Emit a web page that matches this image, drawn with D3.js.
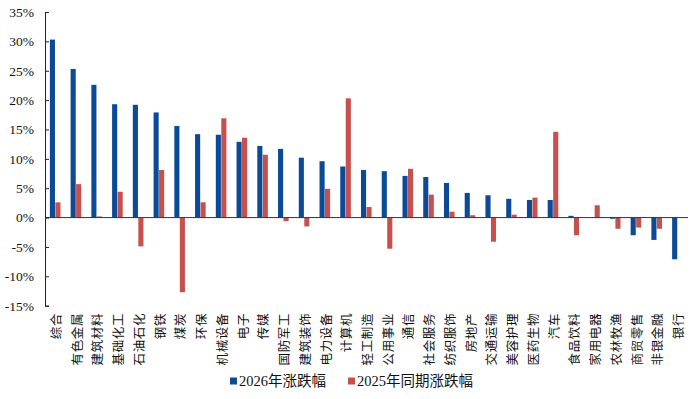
<!DOCTYPE html>
<html>
<head>
<meta charset="utf-8">
<script src="https://cdn.jsdelivr.net/npm/d3@7"></script>
<style>
  body { margin: 0; background: #fff; }
  svg { display: block; }
  .serif { font-family: "Liberation Serif", "Times New Roman", "Noto Sans CJK SC", serif; }
</style>
</head>
<body>
<div id="chart"><svg></svg></div>
<script>
// industries, in chart order
const categories = ["综合", "有色金属", "建筑材料", "基础化工", "石油石化", "钢铁", "煤炭", "环保",
  "机械设备", "电子", "传媒", "国防军工", "建筑装饰", "电力设备", "计算机", "轻工制造",
  "公用事业", "通信", "社会服务", "纺织服饰", "房地产", "交通运输", "美容护理", "医药生物",
  "汽车", "食品饮料", "家用电器", "农林牧渔", "商贸零售", "非银金融", "银行"];

// values in %
const change2026 = [30.3, 25.3, 22.6, 19.3, 19.2, 17.9, 15.6, 14.2,
  14.1, 12.9, 12.2, 11.7, 10.2, 9.6, 8.7, 8.1,
  7.9, 7.1, 6.9, 5.9, 4.2, 3.8, 3.2, 3.0,
  3.0, 0.3, 0.05, -0.2, -3.0, -3.8, -7.1];
const change2025 = [2.6, 5.7, 0.2, 4.4, -4.9, 8.1, -12.7, 2.6,
  16.9, 13.6, 10.7, -0.6, -1.5, 4.9, 20.3, 1.8,
  -5.3, 8.3, 3.9, 1.0, 0.4, -4.1, 0.5, 3.4,
  14.6, -3.0, 2.1, -1.9, -1.7, -1.9, 0];

const seriesNames = ["2026年涨跌幅", "2025年同期涨跌幅"];
const yTicks = [-15, -10, -5, 0, 5, 10, 15, 20, 25, 30, 35];

const width = 700;
const height = 399;
const colors = ["#0B4A96", "#C5504E"];

const svg = d3.select('#chart').select('svg')
    .attr('width', width)
    .attr('height', height);

const x0 = d3.scaleBand()
    .domain(categories)
    .range([45, 688])
    .paddingInner(0.47)
    .paddingOuter(0.235);

const x1 = d3.scaleBand()
    .domain(seriesNames)
    .range([0, x0.bandwidth()]);

const y = d3.scaleLinear()
    .domain([-15, 35])
    .range([305.7, 12]);

const rows = categories.map((c, i) => ({ cat: c, values: [change2026[i], change2025[i]] }));

// bars
const groups = svg.append('g')
  .selectAll('g')
  .data(rows)
  .join('g')
    .attr('transform', d => `translate(${x0(d.cat)},0)`);

groups.selectAll('rect')
  .data(d => d.values.map((v, k) => ({ v, k })))
  .join('rect')
    .attr('x', d => x1(seriesNames[d.k]))
    .attr('width', x1.bandwidth() - 0.4)
    .attr('y', d => y(Math.max(0, d.v)))
    .attr('height', d => Math.abs(y(d.v) - y(0)))
    .attr('fill', d => colors[d.k]);

// zero line
svg.append('line')
    .attr('x1', 45).attr('x2', 688)
    .attr('y1', y(0)).attr('y2', y(0))
    .attr('stroke', '#333')
    .attr('stroke-width', 1);

// y axis, ticks pointing inward
const yAxis = svg.append('g')
    .attr('transform', 'translate(45,0)')
    .call(d3.axisLeft(y).tickValues(yTicks).tickSizeInner(-4).tickSizeOuter(-4)
      .tickFormat(d => d + '%'));

yAxis.attr('font-family', null).attr('font-size', null);
yAxis.select('.domain').attr('stroke', '#222');
yAxis.selectAll('.tick line').attr('stroke', '#222');
yAxis.selectAll('.tick text')
    .attr('class', 'serif')
    .attr('x', -11)
    .attr('fill', '#111')
    .style('font-size', '13.5px');

// category labels, rotated
svg.append('g')
  .selectAll('text')
  .data(categories)
  .join('text')
    .attr('transform', d => `translate(${x0(d) + x0.bandwidth() / 2},313) rotate(-90)`)
    .attr('text-anchor', 'end')
    .attr('dominant-baseline', 'central')
    .attr('fill', '#111')
    .style('font-family', '"Noto Sans CJK SC", sans-serif')
    .style('font-size', '12.5px')
    .style('letter-spacing', '0.6px')
    .text(d => d);

// legend
const legendX = [230, 348];
const legend = svg.append('g')
  .selectAll('g')
  .data(seriesNames)
  .join('g')
    .attr('transform', (d, i) => `translate(${legendX[i]},381)`);

legend.append('rect')
    .attr('x', 0).attr('y', -3.5)
    .attr('width', 7).attr('height', 7)
    .attr('fill', (d, i) => colors[i]);

legend.append('text')
    .attr('class', 'serif')
    .attr('x', 9)
    .attr('dominant-baseline', 'central')
    .attr('fill', '#111')
    .style('font-size', '14.5px')
    .text(d => d);
</script>
</body>
</html>
